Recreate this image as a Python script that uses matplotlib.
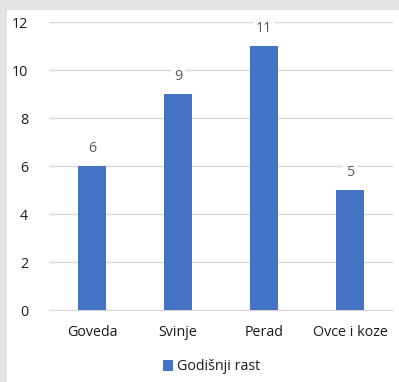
import matplotlib
matplotlib.use("Agg")
import matplotlib.pyplot as plt
from matplotlib.patches import Rectangle

categories = ["Goveda", "Svinje", "Perad", "Ovce i koze"]
values = [6, 9, 11, 5]
series_name = "Godišnji rast"
yticks = [0, 2, 4, 6, 8, 10, 12]

plt.rcParams['font.family'] = ['Open Sans', 'DejaVu Sans']
W, H = 399, 382
fig = plt.figure(figsize=(W/100, H/100), dpi=100)
fig.patch.set_facecolor('#e3e3e3')
# white chart area
fig.patches.append(Rectangle((7/W, 0), 1 - 7/W, 1 - 10/H, transform=fig.transFigure,
                             facecolor='white', edgecolor='none', zorder=-10))

FS = 10.3
ax = fig.add_axes([49/W, 1 - 310/H, (393-49)/W, (310-22)/H])
ax.set_facecolor('none')
x = list(range(len(categories)))
bars = ax.bar(x, values, width=0.315, color='#4472c4', zorder=3, label=series_name)
ax.set_xlim(-0.5, len(categories) - 0.5)
ax.set_ylim(0, 12)
ax.set_yticks(yticks)
ax.set_xticks(x)
ax.set_xticklabels(categories)
ax.grid(axis='y', color='#d9d9d9', linewidth=1, zorder=0)
for s in ['top', 'right', 'left']:
    ax.spines[s].set_visible(False)
ax.spines['bottom'].set_color('#d9d9d9')
ax.tick_params(axis='both', length=0, labelsize=FS, labelcolor='#1a1a1a')
ax.tick_params(axis='y', pad=15)
ax.tick_params(axis='x', pad=11)
for b, v in zip(bars, values):
    ax.annotate(str(v), (b.get_x() + b.get_width()/2, v), xytext=(0, 7),
                textcoords='offset points', ha='center', va='bottom',
                fontsize=FS, color='#595959', zorder=4,
                bbox=dict(boxstyle='square,pad=0.2', fc='white', ec='none'))

leg = fig.legend(handles=[bars], labels=[series_name], loc='center',
                 bbox_to_anchor=(0.5 + 12/W, 1 - 367/H), frameon=False,
                 fontsize=FS, handlelength=0.7, handleheight=0.7, handletextpad=0.3)
for t in leg.get_texts():
    t.set_color('#1a1a1a')

fig.savefig("out.png", dpi=100, facecolor=fig.get_facecolor())
